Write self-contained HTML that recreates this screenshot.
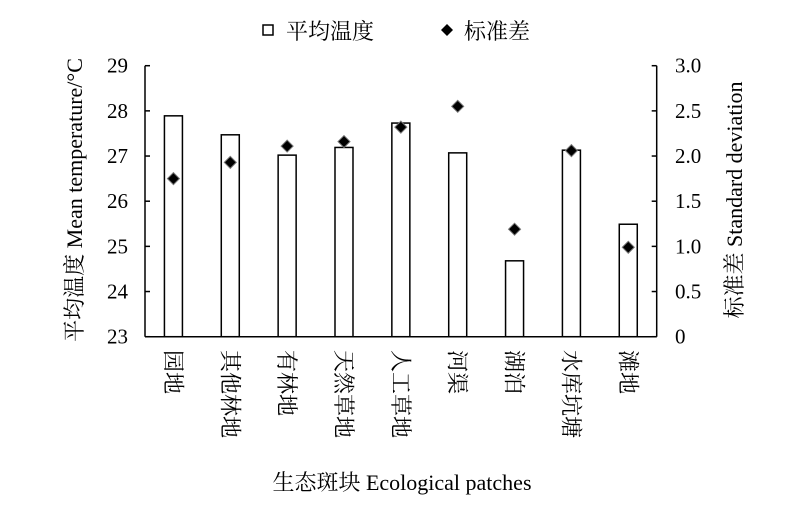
<!DOCTYPE html>
<html><head><meta charset="utf-8">
<style>
body{margin:0;background:#fff;}
svg text{font-family:"Liberation Serif","Noto Serif CJK SC","Noto Sans CJK SC",serif;fill:#000;}
</style></head>
<body>
<svg id="chart" width="800" height="517" xmlns="http://www.w3.org/2000/svg">
<g id="legend">
  <rect x="263" y="25" width="10" height="10" fill="#fff" stroke="#000" stroke-width="1.5"/>
  <text x="286" y="39" font-size="22">平均温度</text>
  <path d="M447,24 L453,30 L447,36 L441,30 Z" fill="#000"/>
  <text x="464" y="39" font-size="22">标准差</text>
</g>
<g id="axes"></g>
<g id="bars"></g>
<g id="points"></g>
<text transform="translate(82,200) rotate(-90)" text-anchor="middle" font-size="22">平均温度 Mean temperature/°C</text>
<text transform="translate(742,200) rotate(-90)" text-anchor="middle" font-size="22">标准差 Standard deviation</text>
<text x="402" y="490" text-anchor="middle" font-size="22">生态斑块 Ecological patches</text>
</svg>
<script>
const categories=["园地","其他林地","有林地","天然草地","人工草地","河渠","湖泊","水库坑塘","滩地"];
const meanTemp=[27.89,27.47,27.02,27.19,27.73,27.07,24.68,27.13,25.49];
const stdDev=[1.75,1.93,2.11,2.16,2.32,2.55,1.19,2.06,0.99];
const leftTicks=[23,24,25,26,27,28,29];
const rightTicks=["0","0.5","1.0","1.5","2.0","2.5","3.0"];

const NS="http://www.w3.org/2000/svg";
const X0=145,X1=656.7,Y0=336.7,Y1=65.7;
const yL=v=>Y0-(v-23)/(29-23)*(Y0-Y1);
const yR=v=>Y0-v/3*(Y0-Y1);
const band=(X1-X0)/categories.length;
const xC=i=>X0+band*(i+0.5);
function mk(tag,attrs,parent){const e=document.createElementNS(NS,tag);for(const k in attrs)e.setAttribute(k,attrs[k]);parent.appendChild(e);return e;}
const axes=document.getElementById('axes'),bars=document.getElementById('bars'),pts=document.getElementById('points');
let l;
l=mk('line',{x1:X0,y1:Y1,x2:X0,y2:Y0,stroke:'#000','stroke-width':1.5},axes);


l=mk('line',{x1:X1,y1:Y1,x2:X1,y2:Y0,stroke:'#000','stroke-width':1.5},axes);


l=mk('line',{x1:X0,y1:Y0,x2:X1,y2:Y0,stroke:'#000','stroke-width':1.5},axes);


leftTicks.forEach(v=>{
  const y=yL(v);
  const t=mk('line',{x1:X0,y1:y,x2:X0+5,y2:y,stroke:'#000','stroke-width':1.5},axes);
  
  
  const tx=mk('text',{x:128,y:y+7,'text-anchor':'end','font-size':21},axes);
  tx.textContent=v;
  
  
});
rightTicks.forEach(s=>{
  const y=yR(parseFloat(s));
  const t=mk('line',{x1:X1-5,y1:y,x2:X1,y2:y,stroke:'#000','stroke-width':1.5},axes);
  
  
  const tx=mk('text',{x:675,y:y+7,'font-size':21},axes);
  tx.textContent=s;
  
  
});
categories.forEach((c,i)=>{
  const x=xC(i);
  const b=mk('rect',{x:x-9,y:yL(meanTemp[i]),width:18,height:Y0-yL(meanTemp[i]),fill:'#fff',stroke:'#000','stroke-width':1.5},bars);
  
  
  const yy=yR(stdDev[i]);
  const p=mk('path',{d:`M${x},${yy-6} L${x+6},${yy} L${x},${yy+6} L${x-6},${yy} Z`,fill:'#000',stroke:'#777','stroke-width':1},pts);
  
  
  const lab=mk('text',{transform:`translate(${x-8},350) rotate(90)`,'font-size':22},axes);
  lab.textContent=c;
  
  
});
</script>
</body></html>
